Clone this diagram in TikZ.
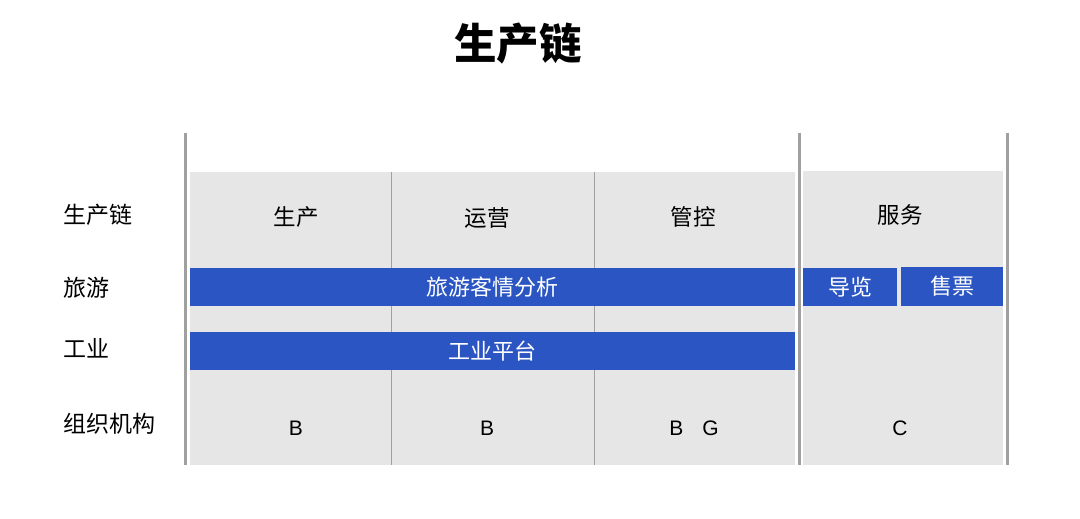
\documentclass[tikz,border=0pt]{standalone}
\usepackage{fontspec}
\setmainfont{Liberation Sans}
\newfontfamily\cjk{Noto Sans CJK SC}
\definecolor{cellgray}{HTML}{E6E6E6}
\definecolor{barblue}{HTML}{2B55C2}
\definecolor{rulegray}{HTML}{A0A0A0}
\begin{document}
\begin{tikzpicture}[x=1pt,y=-1pt,
  cell/.style={fill=cellgray,draw=none,inner sep=0pt},
  bar/.style={fill=barblue,draw=none,inner sep=0pt,text=white,font=\fontsize{22}{26}\selectfont\cjk},
  lbl/.style={inner sep=0pt,font=\fontsize{22.5}{26}\selectfont\cjk},
  rowl/.style={inner sep=0pt,anchor=west,font=\fontsize{23}{27}\selectfont\cjk},
  let/.style={inner sep=0pt,font=\fontsize{21}{25}\selectfont},
  thick rule/.style={draw=rulegray,line width=3pt},
  thin rule/.style={draw=rulegray,line width=1.5pt}]
\useasboundingbox (0,0) rectangle (1080,519);
\fill[white] (0,0) rectangle (1080,519);
% title
\node[inner sep=0pt,font=\fontsize{42.5}{48}\selectfont\cjk\bfseries] (title) at (518,44) {生产链};
% gray blocks
\node[cell,minimum width=605pt,minimum height=293pt] (left) at (492.5,318.5) {};
\node[cell,minimum width=200pt,minimum height=294pt] (right) at (903,318) {};
% thin dividers
\coordinate (d1t) at (391.5,172); \coordinate (d1b) at (391.5,465);
\coordinate (d2t) at (594.5,172); \coordinate (d2b) at (594.5,465);
\draw[thin rule] (d1t) -- (d1b);
\draw[thin rule] (d2t) -- (d2b);
% thick rules
\coordinate (r1t) at (185.5,133); \coordinate (r1b) at (185.5,465);
\coordinate (r2t) at (799.5,133); \coordinate (r2b) at (799.5,465);
\coordinate (r3t) at (1007,133); \coordinate (r3b) at (1007,465);
\draw[thick rule] (r1t) -- (r1b);
\draw[thick rule] (r2t) -- (r2b);
\draw[thick rule] (r3t) -- (r3b);
% blue bars
\node[bar,minimum width=605pt,minimum height=38pt] (tour) at (492.5,287) {旅游客情分析};
\node[bar,minimum width=94pt,minimum height=38pt] (guide) at (850,287) {导览};
\node[bar,minimum width=102pt,minimum height=39pt] (ticket) at (952,286.5) {售票};
\node[bar,minimum width=605pt,minimum height=38pt] (ind) at (492.5,351) {工业平台};
% row labels
\node[rowl] (rl1) at (63,215) {生产链};
\node[rowl] (rl2) at (63,288) {旅游};
\node[rowl] (rl3) at (63,348) {工业};
\node[rowl] (rl4) at (63,424) {组织机构};
% column headers
\node[lbl] (h1) at (296,217) {生产};
\node[lbl] (h2) at (487,218) {运营};
\node[lbl] (h3) at (693,217) {管控};
\node[lbl] (h4) at (900,215) {服务};
% org letters
\node[let] (o1) at (296,428) {B};
\node[let] (o2) at (487,428) {B};
\node[let] (o3) at (694,428) {B\hspace{19pt}G};
\node[let] (o4) at (900,428) {C};
\end{tikzpicture}
\end{document}
